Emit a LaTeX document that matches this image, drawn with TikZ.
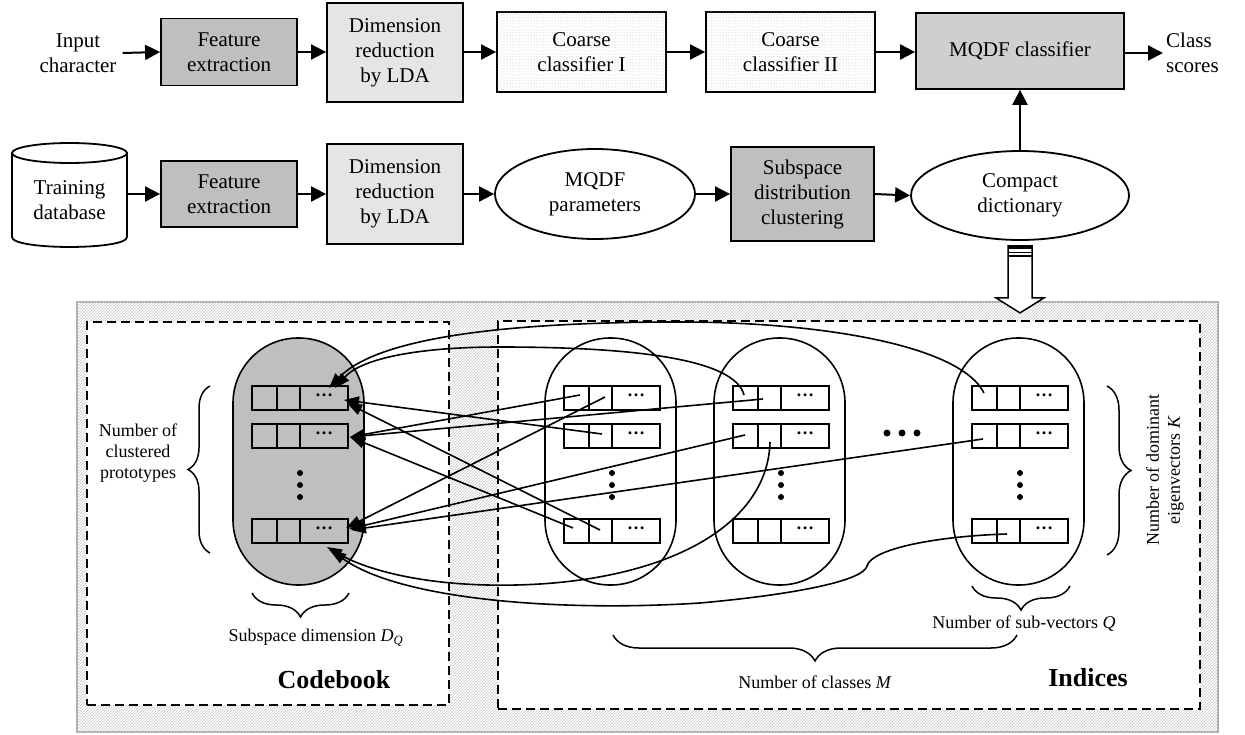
\documentclass[tikz,border=0pt]{standalone}
\usepackage{fontspec}
\setmainfont{Liberation Serif}
\usetikzlibrary{arrows.meta,patterns,decorations.pathreplacing,shapes.geometric,calc}
\newcommand\fbig{\fontsize{21}{25}\selectfont}
\newcommand\fmid{\fontsize{18}{21}\selectfont}
\newcommand\fbld{\fontsize{26}{30}\selectfont\bfseries}
\begin{document}
\begin{tikzpicture}[x=1pt,y=-1pt,
  box/.style={draw,line width=1.8pt,align=center,inner sep=0pt,font=\fbig},
  dotbox/.style={box,fill=white,postaction={pattern=dots,pattern color=gray!55}},
  ell/.style={draw,ellipse,line width=1.8pt,align=center,inner sep=0pt,font=\fbig},
  tlabel/.style={align=center,inner sep=0pt,font=\fbig},
  tarr/.style={line width=2pt,-{Triangle[length=15pt,width=15pt]}},
  parr/.style={line width=1.6pt,-{Triangle[length=15pt,width=11pt]}},
  dbox/.style={draw,dashed,dash pattern=on 9pt off 5pt,line width=1.8pt,fill=white,inner sep=0pt},
  capsule/.style={draw,line width=1.6pt,rounded corners=65pt,minimum width=131,minimum height=247,inner sep=0pt},
  brc/.style={decorate,line width=1.5pt},
  plabel/.style={align=center,inner sep=0pt,font=\fmid}
]
\useasboundingbox (0,0) rectangle (1245,735);

% ---------- top row ----------
\node[tlabel,inner sep=6pt] (in) at (78,53) {Input\\character};
\node[box,fill=gray!50,minimum width=136,minimum height=67] (fe1) at (229,52) {Feature\\extraction};
\node[box,fill=gray!20,minimum width=136,minimum height=99] (dr1) at (395,52.5) {Dimension\\reduction\\by LDA};
\node[dotbox,minimum width=169,minimum height=80] (cc1) at (581.5,52) {Coarse\\classifier I};
\node[dotbox,minimum width=169,minimum height=80] (cc2) at (790.5,52) {Coarse\\classifier II};
\node[box,top color=gray!38,middle color=gray!10,bottom color=gray!38,minimum width=208,minimum height=76] (mq) at (1020,51) {MQDF classifier};
\node[tlabel,align=left,anchor=west,inner sep=3pt] (cs) at (1163,53) {Class\\scores};

\draw[tarr] (in.east) -- (fe1.west);
\draw[tarr] (fe1.east) -- (dr1.west |- fe1.east);
\draw[tarr] (dr1.east |- cc1.west) -- (cc1.west);
\draw[tarr] (cc1.east) -- (cc2.west);
\draw[tarr] (cc2.east) -- (mq.west |- cc2.east);
\draw[tarr] (mq.east |- cs.west) -- (cs.west);

% ---------- second row ----------
\draw[line width=1.8pt,fill=white] (12,153) -- (12,237) .. controls (12,250.3) and (127,250.3) .. (127,237) -- (127,153);
\draw[line width=1.8pt] (69.5,153) ellipse [x radius=57.5,y radius=10];
\node[tlabel,minimum width=115,minimum height=94] (db) at (69.5,200) {Training\\database};
\node[box,fill=gray!50,minimum width=136,minimum height=66] (fe2) at (229,194) {Feature\\extraction};
\node[box,fill=gray!20,minimum width=136,minimum height=100] (dr2) at (395,194) {Dimension\\reduction\\by LDA};
\node[ell,minimum width=200,minimum height=90] (mp) at (595,194) {MQDF\\parameters};
\node[box,fill=gray!50,minimum width=143,minimum height=94] (sdc) at (802.5,194) {Subspace\\distribution\\clustering};
\node[ell,minimum width=218,minimum height=89] (cd) at (1020,195.5) {Compact\\dictionary};

\draw[tarr] (db.east |- fe2.west) -- (fe2.west);
\draw[tarr] (fe2.east) -- (dr2.west);
\draw[tarr] (dr2.east) -- (mp.west);
\draw[tarr] (mp.east) -- (sdc.west);
\draw[tarr] (sdc.east) -- (cd.west);
\draw[tarr] (cd.north) -- (mq.south);

% ---------- panel ----------
\node[draw=gray!65,line width=2.2pt,fill=white,postaction={pattern=north east lines,pattern color=gray!45},
      minimum width=1141,minimum height=430,inner sep=0pt] (panel) at (647.5,517) {};

% hollow arrow from compact dictionary to panel
\coordinate (ha) at ($(cd.south)+(0,5)$);
\draw[line width=1.5pt,fill=white] (ha) ++(-12,0) -- ++(0,52) -- ++(-12,0) -- ++(24,15) -- ++(24,-15) -- ++(-12,0) -- ++(0,-52) -- cycle;
\fill (ha) ++(-12,0) rectangle ++(24,3.5);
\draw[line width=1.3pt] ($(ha)+(-12,6.5)$) -- ($(ha)+(12,6.5)$);
\draw[line width=1.3pt] ($(ha)+(-12,10)$) -- ($(ha)+(12,10)$);

% dashed boxes
\node[dbox,minimum width=362,minimum height=383] (cb) at (268,513.5) {};
\node[dbox,minimum width=702,minimum height=388] (ix) at (849,515) {};

% capsules
\node[capsule,fill=gray!50] (cap0) at (298.5,461.5) {};
\node[capsule] (cap1) at (610.5,461.5) {};
\node[capsule] (cap2) at (779.5,461.5) {};
\node[capsule] (cap3) at (1018.5,461.5) {};

% rows of cells
\foreach \xo/\nm in {252/a,564/b,733/c,972/d}{
  \foreach \ry/\r in {398/1,436/2,531/3}{
    \draw[line width=1.6pt] (\xo,\ry-12) rectangle (\xo+96,\ry+12);
    \draw[line width=1.6pt] (\xo+25,\ry-12) -- (\xo+25,\ry+12);
    \draw[line width=1.6pt] (\xo+48,\ry-12) -- (\xo+48,\ry+12);
    \node[font=\fmid\bfseries,inner sep=0pt] (dt\nm\r) at (\xo+72,\ry-3) {…};
  }
  \foreach \vy in {473,485,497}{
    \fill (\xo+48,\vy) circle (3);
  }
}
% dots between capsules
\foreach \hx in {887,902,917}{
  \fill (\hx,433) circle (3.5);
}

% ---------- arrows into the codebook ----------
\coordinate (s1) at (984,393);
\coordinate (s2) at (744,395);
\coordinate (s3) at (602,434);
\coordinate (s4) at (600,530);
\coordinate (s5) at (580,395);
\coordinate (s6) at (763,399);
\coordinate (s7) at (573,528);
\coordinate (s8) at (605,397);
\coordinate (s9) at (745,435);
\coordinate (s10) at (983,439);
\coordinate (s11) at (770,442);
\coordinate (s12) at (1007,534);
\coordinate (t1a) at (329,388);
\coordinate (t1b) at (335,388);
\coordinate (r1a) at (344,400);
\coordinate (r1b) at (347,403);
\coordinate (r2) at (350,437);
\coordinate (r3a) at (346,528);
\coordinate (r3b) at (349,529);
\coordinate (r3c) at (351,530);
\coordinate (b3a) at (327,547);
\coordinate (b3b) at (331,550);

\draw[parr] (s1) .. controls (960,345) and (820,322) .. (680,322) .. controls (520,322) and (380,335) .. (t1a);
\draw[parr] (s2) .. controls (735,360) and (640,347) .. (500,347) .. controls (420,347) and (362,358) .. (t1b);
\draw[parr] (s3) -- (r1a);
\draw[parr] (s4) -- (r1b);
\draw[parr] (s5) -- (r2);
\draw[parr] (s6) -- (r2);
\draw[parr] (s7) -- (r2);
\draw[parr] (s8) -- (r3a);
\draw[parr] (s9) -- (r3b);
\draw[parr] (s10) -- (r3c);
\draw[parr] (s11) .. controls (768,520) and (680,575) .. (540,584) .. controls (440,590) and (370,572) .. (b3a);
\draw[parr] (s12) .. controls (940,536) and (872,548) .. (867,566) .. controls (864,580) and (800,594) .. (700,603) .. controls (560,612) and (400,600) .. (b3b);

% ---------- braces ----------
\draw[brc,decoration={brace,amplitude=22pt}] (210,553) -- (210,386);
\draw[brc,decoration={brace,amplitude=24pt}] (1107,386) -- (1107,555);
\draw[brc,decoration={brace,amplitude=24pt}] (349,593) -- (252,593);
\draw[brc,decoration={brace,amplitude=24pt}] (1070,586) -- (972,586);
\draw[brc,decoration={brace,amplitude=26pt}] (1017,635) -- (613,635);

% ---------- labels ----------
\node[plabel] (ncp) at (138,453) {Number of\\clustered\\prototypes};
\node[plabel,rotate=90] (nde) at (1165,470) {Number of dominant\\eigenvectors \textit{K}};
\node[plabel] (sdq) at (316,638) {Subspace dimension \textit{D}\textsubscript{\textit{Q}}};
\node[plabel] (nsq) at (1024,624) {Number of sub-vectors \textit{Q}};
\node[plabel] (ncm) at (815,682) {Number of classes \textit{M}};
\node[font=\fbld,inner sep=0pt] (cbl) at (334,680) {Codebook};
\node[font=\fbld,inner sep=0pt] (ixl) at (1088,678) {Indices};
\end{tikzpicture}
\end{document}
